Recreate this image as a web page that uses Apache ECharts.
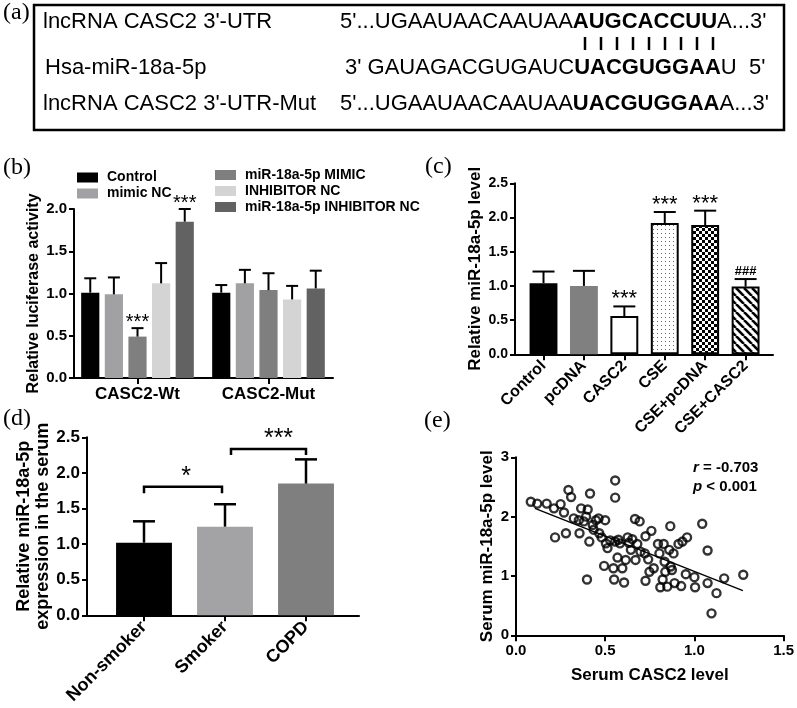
<!DOCTYPE html>
<html><head><meta charset="utf-8">
<script src="https://cdn.jsdelivr.net/npm/echarts@6/dist/echarts.min.js"></script>
<style>html,body{margin:0;padding:0;background:#fff}#c{width:797px;height:708px}</style>
</head><body><div id="c"></div>
<script>
// ===== Panel (a): sequence alignment text =====
const aLabels = ["lncRNA CASC2 3'-UTR", "Hsa-miR-18a-5p", "lncRNA CASC2 3'-UTR-Mut"];
const aSeqPre = ["5'...UGAAUAACAAUAA", "3' GAUAGACGUGAUC", "5'...UGAAUAACAAUAA"];
const aSeqBold = ["AUGCACCUU", "UACGUGGAA", "UACGUGGAA"];
const aSeqPost = ["A...3'", "U  5'", "A...3'"];

// ===== Panel (b): luciferase activity =====
const bCategories = ['CASC2-Wt', 'CASC2-Mut'];
const bSeriesNames = ['Control', 'mimic NC', 'miR-18a-5p MIMIC', 'INHIBITOR NC', 'miR-18a-5p INHIBITOR NC'];
const bControl = [1.01, 1.01];
const bMimicNC = [0.99, 1.12];
const bMimic = [0.49, 1.04];
const bInhibitorNC = [1.12, 0.93];
const bInhibitor = [1.85, 1.06];
const bControlSD = [0.17, 0.09];
const bMimicNCSD = [0.20, 0.16];
const bMimicSD = [0.10, 0.20];
const bInhibitorNCSD = [0.24, 0.16];
const bInhibitorSD = [0.15, 0.21];
const bSigMimic = ['***', ''];
const bSigInhibitor = ['***', ''];

// ===== Panel (c): miR-18a-5p level =====
const cCategories = ['Control', 'pcDNA', 'CASC2', 'CSE', 'CSE+pcDNA', 'CSE+CASC2'];
const cValues = [1.04, 1.00, 0.56, 1.92, 1.89, 0.99];
const cSD = [0.17, 0.22, 0.14, 0.16, 0.21, 0.11];
const cSig = ['', '', '***', '***', '***', '###'];

// ===== Panel (d): serum expression =====
const dCategories = ['Non-smoker', 'Smoker', 'COPD'];
const dValues = [1.02, 1.245, 1.85];
const dSD = [0.30, 0.315, 0.34];
const dBrackets = [
  {from: 0, to: 1, level: 1.806, leg: 1.713, label: '*'},
  {from: 1, to: 2, level: 2.336, leg: 2.25, label: '***'}
];

// ===== Panel (e): correlation scatter =====
const eX = [0.083,0.119,0.172,0.213,0.25,0.269,0.219,0.28,0.294,0.309,0.324,0.352,0.365,0.356,0.38,0.402,0.415,0.393,0.411,0.398,
  0.43,0.435,0.448,0.463,0.467,0.48,0.5,0.494,0.504,0.513,0.528,0.546,0.55,0.556,0.556,0.556,0.569,0.574,0.583,0.596,
  0.606,0.615,0.626,0.633,0.644,0.652,0.667,0.67,0.68,0.693,0.698,0.722,0.726,0.726,0.741,0.748,0.759,0.772,0.796,0.804,
  0.809,0.822,0.828,0.833,0.837,0.848,0.859,0.865,0.867,0.874,0.883,0.889,0.926,0.911,0.933,0.959,0.952,1.0,1.004,1.044,
  1.074,1.074,1.096,1.124,1.167,1.274];
const eY = [2.25,2.22,2.22,2.14,2.21,2.07,1.65,1.72,2.45,2.33,1.97,1.94,2.14,1.72,1.92,2.12,2.39,2.0,1.58,0.94,
  1.86,1.78,1.94,1.97,1.72,1.65,1.94,1.17,1.55,1.47,1.6,1.13,0.94,2.61,2.32,1.58,1.31,1.61,1.55,1.13,
  0.89,1.27,1.65,1.56,1.44,1.62,1.96,1.27,1.54,1.92,1.41,1.38,1.67,0.92,1.28,1.07,1.76,1.13,1.54,1.38,
  0.81,0.94,1.54,1.24,1.07,0.82,1.44,1.84,1.16,1.10,1.38,0.88,0.83,1.54,1.58,1.65,1.03,0.98,0.81,1.88,
  1.43,0.88,0.37,0.71,0.96,1.02];
const eFitX = [0.106, 1.272];
const eFitY = [2.14, 0.753];
const eStats = ['r', ' = -0.703', 'p', ' < 0.001'];

// ===== helpers =====
const FONT = '"Liberation Sans", Arial, Helvetica, sans-serif';
const SERIF = '"Liberation Serif", "Times New Roman", serif';

function pattern(kind) {
  const c = document.createElement('canvas');
  const ctx = c.getContext('2d');
  if (kind === 'dots') {
    c.width = 4; c.height = 4;
    ctx.fillStyle = '#fff'; ctx.fillRect(0, 0, 4, 4);
    ctx.fillStyle = '#666'; ctx.fillRect(1, 1, 1, 1);
  } else if (kind === 'checker') {
    c.width = 6; c.height = 6;
    ctx.fillStyle = '#fff'; ctx.fillRect(0, 0, 6, 6);
    ctx.fillStyle = '#000'; ctx.fillRect(0, 0, 3, 3); ctx.fillRect(3, 3, 3, 3);
  } else {
    c.width = 8; c.height = 8;
    ctx.fillStyle = '#fff'; ctx.fillRect(0, 0, 8, 8);
    ctx.strokeStyle = '#000'; ctx.lineWidth = 2.6;
    for (const k of [-8, 0, 8]) { ctx.beginPath(); ctx.moveTo(k, 0); ctx.lineTo(k + 8, 8); ctx.stroke(); }
  }
  return {image: c, repeat: 'repeat'};
}

function errorBars(xi, yi, means, sds, sig, o) {
  return {
    type: 'custom', xAxisIndex: xi, yAxisIndex: yi, z: 5, silent: true,
    data: means.map((m, i) => [i, m, m + sds[i]]),
    renderItem(params, api) {
      const i = api.value(0);
      const base = api.coord([i, api.value(1)]);
      const top = api.coord([i, api.value(2)]);
      const band = api.size([1, 0])[0];
      const x = base[0] + (o.offset ? o.offset(band) : 0);
      const h = o.cap / 2;
      const st = {stroke: '#000', lineWidth: o.lw};
      const ch = [
        {type: 'line', shape: {x1: x, y1: base[1], x2: x, y2: top[1]}, style: st},
        {type: 'line', shape: {x1: x - h, y1: top[1], x2: x + h, y2: top[1]}, style: st}
      ];
      const s = sig ? sig[params.dataIndex] : '';
      if (s) {
        const small = s === '###';
        ch.push({type: 'text', x: x, y: top[1] - (small ? o.sigGap + 1 : o.sigGap),
          style: {text: s, align: 'center', verticalAlign: 'middle',
            font: small ? 'bold 13px ' + FONT : o.sigFont, fill: '#000'}});
      }
      return {type: 'group', children: ch};
    }
  };
}

const axisLine = {show: true, lineStyle: {color: '#000', width: 2}};
const axisTick = {show: true, length: 5, lineStyle: {color: '#000', width: 2}};
function frameX(gi) {
  return {gridIndex: gi, type: 'value', min: 0, max: 1, axisLine: axisLine,
    axisTick: {show: false}, axisLabel: {show: false}, splitLine: {show: false}};
}
function valueY(gi, max, interval, fs, name, gap, nfs, fmt) {
  return {gridIndex: gi, type: 'value', min: 0, max: max, interval: interval,
    axisLine: axisLine, axisTick: axisTick, splitLine: {show: false},
    axisLabel: {color: '#000', fontFamily: FONT, fontWeight: 'bold', fontSize: fs, margin: 7,
      formatter: fmt || (v => v.toFixed(1))},
    name: name, nameLocation: 'middle', nameGap: gap,
    nameTextStyle: {color: '#000', fontFamily: FONT, fontWeight: 'bold', fontSize: nfs, lineHeight: nfs + 1}};
}
function hiddenY(gi, max) { return {gridIndex: gi, type: 'value', min: 0, max: max, show: false}; }
function catX(gi, cats, fs, rotate) {
  return {gridIndex: gi, type: 'category', data: cats, axisLine: {show: false},
    axisTick: {show: true, alignWithLabel: true, length: 6, lineStyle: {color: '#000', width: 2}},
    axisLabel: {color: '#000', fontFamily: FONT, fontWeight: 'bold', fontSize: fs, rotate: rotate, margin: rotate ? 9 : 8, interval: 0},
    splitLine: {show: false}};
}

// ===== panel (b) series =====
const bVals = [bControl, bMimicNC, bMimic, bInhibitorNC, bInhibitor];
const bSDs = [bControlSD, bMimicNCSD, bMimicSD, bInhibitorNCSD, bInhibitorSD];
const bSigs = [null, null, bSigMimic, null, bSigInhibitor];
const bColors = ['#000000', '#a1a1a4', '#7f7f7f', '#d4d4d4', '#626262'];
const B_CAT_GAP = 0.14, B_BAR_GAP = 0.3;
const series = [];
bVals.forEach((v, k) => {
  series.push({type: 'bar', name: bSeriesNames[k], xAxisIndex: 1, yAxisIndex: 1, data: v,
    itemStyle: {color: bColors[k]}, barCategoryGap: '14%', barGap: '30%', silent: true});
});
bVals.forEach((v, k) => {
  series.push(errorBars(1, 1, v, bSDs[k], bSigs[k], {
    cap: 12, lw: 2, sigGap: 6, sigFont: '20px ' + FONT,
    offset: band => { const bw = band * (1 - B_CAT_GAP) / (5 + 4 * B_BAR_GAP); return (k - 2) * bw * (1 + B_BAR_GAP); }
  }));
});

// ===== panel (c) series =====
const cStyles = [
  {color: '#000'},
  {color: '#808080'},
  {color: '#fff', borderColor: '#000', borderWidth: 2},
  {color: pattern('dots'), borderColor: '#000', borderWidth: 2},
  {color: pattern('checker'), borderColor: '#000', borderWidth: 2},
  {color: pattern('stripes'), borderColor: '#000', borderWidth: 2}
];
series.push({type: 'bar', xAxisIndex: 3, yAxisIndex: 3, barCategoryGap: '31%', silent: true,
  data: cValues.map((v, i) => ({value: v, itemStyle: cStyles[i]}))});
series.push(errorBars(3, 3, cValues, cSD, cSig, {cap: 22, lw: 2, sigGap: 7, sigFont: '22px ' + FONT}));

// ===== panel (d) series =====
const dColors = ['#000000', '#a3a3a6', '#7f7f7f'];
series.push({type: 'bar', xAxisIndex: 5, yAxisIndex: 5, barCategoryGap: '31%', silent: true,
  data: dValues.map((v, i) => ({value: v, itemStyle: {color: dColors[i]}}))});
series.push(errorBars(5, 5, dValues, dSD, null, {cap: 22, lw: 2.5}));
const dBracketInset = [[0, -3, 3], [6, 0, 10]];
series.push({type: 'custom', xAxisIndex: 5, yAxisIndex: 5, z: 6, silent: true,
  data: dBrackets.map(b => [b.from, b.to, b.level, b.leg]),
  renderItem(params, api) {
    const b = dBrackets[params.dataIndex];
    const ins = dBracketInset[params.dataIndex];
    const p1 = api.coord([b.from, b.level]);
    const p2 = api.coord([b.to, b.level]);
    const legY = api.coord([b.from, b.leg])[1];
    const x1 = p1[0] + ins[0], x2 = p2[0] + ins[1];
    return {type: 'group', children: [
      {type: 'polyline', shape: {points: [[x1, legY], [x1, p1[1]], [x2, p1[1]], [x2, legY]]},
        style: {stroke: '#000', lineWidth: 2.5, fill: null}},
      {type: 'text', x: (x1 + x2) / 2 + ins[2], y: p1[1] - 10,
        style: {text: b.label, align: 'center', verticalAlign: 'middle', font: '25px ' + FONT, fill: '#000'}}
    ]};
  }});

// ===== panel (e) series =====
series.push({type: 'scatter', xAxisIndex: 6, yAxisIndex: 6, symbol: 'circle', symbolSize: 8, silent: true,
  itemStyle: {color: 'rgba(255,255,255,0)', borderColor: '#000', borderWidth: 2.4},
  data: eX.map((x, i) => [x, eY[i]])});
series.push({type: 'line', xAxisIndex: 6, yAxisIndex: 6, showSymbol: false, silent: true,
  lineStyle: {color: '#000', width: 1.5}, data: eFitX.map((x, i) => [x, eFitY[i]])});

// ===== graphics (panel a + panel letters + stats) =====
const graphic = [];
graphic.push({type: 'rect', shape: {x: 34, y: 5, width: 750, height: 125},
  style: {fill: null, stroke: '#000', lineWidth: 2.5}});
const rowY = [21.5, 67.5, 104];
const labelX = [43, 45, 43];
const seqX = [340, 345, 340];
for (let r = 0; r < 3; r++) {
  graphic.push({type: 'text', x: labelX[r], y: rowY[r],
    style: {text: aLabels[r], font: '22px ' + FONT, fill: '#000', verticalAlign: 'middle'}});
  graphic.push({type: 'text', x: seqX[r], y: rowY[r],
    style: {text: '{n|' + aSeqPre[r] + '}{b|' + aSeqBold[r] + '}{n|' + aSeqPost[r] + '}',
      verticalAlign: 'middle',
      rich: {n: {fontSize: 22, fontFamily: FONT, fontWeight: 'normal', fill: '#000'},
             b: {fontSize: 22, fontFamily: FONT, fontWeight: 'bold', fill: '#000'}}}});
}
for (let i = 0; i < 9; i++) {
  graphic.push({type: 'line', shape: {x1: 585 + 16 * i, y1: 37, x2: 585 + 16 * i, y2: 50},
    style: {stroke: '#000', lineWidth: 2.5}});
}
[['(a)', 3, 13], ['(b)', 3, 168], ['(c)', 425, 167], ['(d)', 3, 419], ['(e)', 424, 421]].forEach(p => {
  graphic.push({type: 'text', x: p[1], y: p[2],
    style: {text: p[0], font: '24px ' + SERIF, fill: '#000', verticalAlign: 'middle'}});
});
const statRich = {i: {fontSize: 15, fontFamily: FONT, fontWeight: 'bold', fontStyle: 'italic'}, n: {fontSize: 15, fontFamily: FONT, fontWeight: 'bold'}};
graphic.push({type: 'text', x: 693, y: 468, style: {text: '{i|' + eStats[0] + '}{n|' + eStats[1] + '}', verticalAlign: 'middle', rich: statRich}});
graphic.push({type: 'text', x: 693, y: 487, style: {text: '{i|' + eStats[2] + '}{n|' + eStats[3] + '}', verticalAlign: 'middle', rich: statRich}});

const legendBase = {orient: 'vertical', padding: 0, itemWidth: 21, itemHeight: 10, itemGap: 2, icon: 'rect',
  selectedMode: false, textStyle: {color: '#000', fontFamily: FONT, fontWeight: 'bold', fontSize: 14, lineHeight: 14, padding: [0, 0, 0, 4]}};

const option = {
  animation: false,
  backgroundColor: '#fff',
  textStyle: {fontFamily: FONT},
  legend: [
    Object.assign({}, legendBase, {left: 77, top: 170.5, data: bSeriesNames.slice(0, 2)}),
    Object.assign({}, legendBase, {left: 215, top: 168, data: bSeriesNames.slice(2)})
  ],
  grid: [
    {left: 74, right: 464, top: 209, bottom: 330},
    {left: 72, right: 463, top: 209, bottom: 330},
    {left: 515, right: 24, top: 183.3, bottom: 353.7},
    {left: 523.3, right: 31.2, top: 183.3, bottom: 353.7},
    {left: 87, right: 438, top: 437.3, bottom: 92.7},
    {left: 103.5, right: 450.5, top: 437.3, bottom: 92.7},
    {left: 516, right: 13, top: 457.3, bottom: 72.7}
  ],
  xAxis: [
    frameX(0),
    catX(1, bCategories, 17, 0),
    frameX(2),
    catX(3, cCategories, 16, 45),
    frameX(4),
    catX(5, dCategories, 18, 45),
    {gridIndex: 6, type: 'value', min: 0, max: 1.5, interval: 0.5, axisLine: axisLine,
      axisTick: {show: true, length: 6, lineStyle: {color: '#000', width: 2}}, splitLine: {show: false},
      axisLabel: {color: '#000', fontFamily: FONT, fontWeight: 'bold', fontSize: 15, margin: 8, formatter: v => v.toFixed(1)},
      name: 'Serum CASC2 level', nameLocation: 'middle', nameGap: 32,
      nameTextStyle: {color: '#000', fontFamily: FONT, fontWeight: 'bold', fontSize: 17}}
  ],
  yAxis: [
    valueY(0, 2, 0.5, 15, 'Relative luciferase activity', 32, 16),
    hiddenY(1, 2),
    valueY(2, 2.5, 0.5, 14, 'Relative miR-18a-5p level', 31, 17),
    hiddenY(3, 2.5),
    valueY(4, 2.5, 0.5, 17, 'Relative miR-18a-5p\nexpression in the serum', 31, 18),
    hiddenY(5, 2.5),
    valueY(6, 3, 1, 15, 'Serum miR-18a-5p level', 19, 17, v => String(v))
  ],
  series: series,
  graphic: graphic
};

const chart = echarts.init(document.getElementById('c'), null, {renderer: 'canvas'});
chart.setOption(option);
</script>
</body></html>
